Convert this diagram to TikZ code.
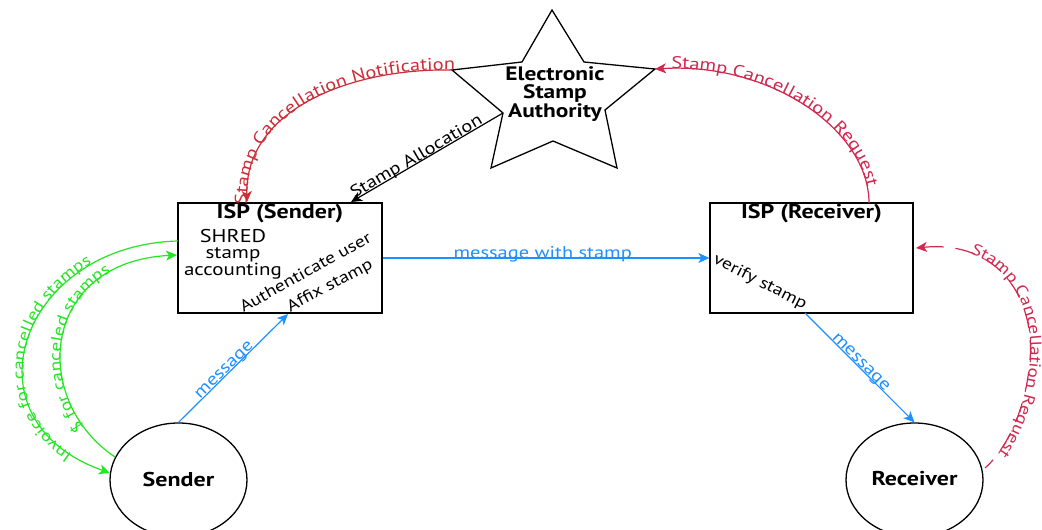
\documentclass[tikz,border=0pt]{standalone}
\usepackage{fontspec}
\setmainfont{PT Sans}[FakeStretch=1.2]
\usetikzlibrary{arrows.meta,decorations.text,shapes.geometric}
\definecolor{cblue}{RGB}{30,144,255}
\definecolor{cgreen}{RGB}{36,230,36}
\definecolor{cred}{RGB}{205,45,55}
\definecolor{cpink}{RGB}{210,40,80}
\newcommand\lblfont{\fontsize{17}{17}\selectfont}
\newcommand\grnfont{\fontsize{16}{16}\selectfont}
\newcommand\dshfont{\fontsize{16}{16}\selectfont}
\tikzset{
  lbl/.style={font=\lblfont, inner sep=0pt},
  tipend/.style={-{Stealth[length=11pt,width=10pt,inset=3pt]}},
  tipstart/.style={{Stealth[length=11pt,width=10pt,inset=3pt]}-},
  conn/.style={line width=1.2pt},
  boxnode/.style={draw, line width=1.3pt, minimum height=110pt, inner sep=0pt},
  ellnode/.style={draw, ellipse, line width=1.3pt, minimum width=137pt, minimum height=114pt, inner sep=0pt},
  bold/.style={font=\bfseries\fontsize{20}{20}\selectfont, inner sep=0pt},
  txt/.style={font=\fontsize{17.5}{16.5}\selectfont, inner sep=0pt},
  rtxt/.style={font=\fontsize{16.3}{16}\selectfont, inner sep=0pt},
}
\begin{document}
\begin{tikzpicture}[x=1pt,y=-1pt]
\useasboundingbox[fill=white] (0,0) rectangle (1042,530);

% star
\coordinate (sT) at (552,10);
\coordinate (sIUR) at (584,62);
\coordinate (starR) at (655,69);
\coordinate (sIR) at (605,110);
\coordinate (sBR) at (617,168);
\coordinate (sIB) at (553,141);
\coordinate (sBL) at (491,168);
\coordinate (starIL) at (503,113);
\coordinate (starL) at (452,70);
\coordinate (sIUL) at (522,62);
\draw[line width=1.3pt, line join=miter] (sT) -- (sIUR) -- (starR) -- (sIR) -- (sBR) -- (sIB) -- (sBL) -- (starIL) -- (starL) -- (sIUL) -- cycle;
\node[align=center, font=\bfseries\fontsize{19.5}{18.5}\selectfont, inner sep=0pt] (esa) at (555,94) {Electronic\\Stamp\\Authority};

% boxes
\node[boxnode, minimum width=204pt] (ispS) at (280,258) {};
\node[boxnode, minimum width=203pt] (ispR) at (811.5,258) {};
\node[bold] (ispSt) at (280,214) {ISP (Sender)};
\node[bold] (ispRt) at (811.5,214) {ISP (Receiver)};
\node[txt, align=center] (shred) at (233,254) {{\fontsize{18.5}{16.5}\selectfont SHRED}\\stamp\\accounting};
\node[rtxt, rotate=29, anchor=base] (auth) at (308,277) {Authenticate user};
\node[rtxt, rotate=28, anchor=base] (affix) at (332,290) {Affix stamp};
\node[rtxt, rotate=-27, anchor=base] (verify) at (758,286) {verify stamp};

% ellipses
\node[ellnode] (snd) at (178.5,480) {};
\node[ellnode] (rcv) at (914.5,480) {};
\node[bold] (sndt) at (178.5,479) {Sender};
\node[bold] (rcvt) at (914.5,479) {Receiver};

% connector end points
\coordinate (ispSN) at (247,202);
\coordinate (ispSA) at (351,202);
\coordinate (ispSB) at (288,314);
\coordinate (ispSW1) at (178,241);
\coordinate (ispSW2) at (177,255);
\coordinate (ispRN) at (869,203);
\coordinate (ispRB) at (805,313);
\coordinate (ispRE) at (916,248);
\coordinate (sndW) at (110,473);
\coordinate (sndNW) at (115,457);
\coordinate (rcvE) at (985,468);

% Stamp allocation
\draw[conn, tipend] (starIL) -- node[lbl, sloped, anchor=base, pos=0.55, yshift=1pt] (allocl) {Stamp Allocation} (ispSA);

% Stamp cancellation notification
\draw[conn, cred, tipstart,
  postaction={decorate, decoration={text along path, text color=cred,
    text={|\lblfont|Stamp Cancellation Notification}, text align=center}}]
  (ispSN) .. controls (245,110) and (350,68) .. (starL);

% Stamp cancellation request (top)
\draw[conn, cpink, tipstart,
  postaction={decorate, decoration={text along path, text color=cpink,
    text={|\lblfont|Stamp Cancellation Request}, text align=center}}]
  (starR) .. controls (770,62) and (869,130) .. (ispRN);

% message with stamp
\draw[conn, cblue, tipend] (ispS.east) -- node[lbl, anchor=base, pos=0.49] (mws) {message with stamp} (ispR.west);

% message sender -> ISP
\draw[conn, cblue, tipend] (snd.north) -- node[lbl, sloped, anchor=base, pos=0.45, yshift=1pt] (msg1) {message} (ispSB);

% message ISP -> receiver
\draw[conn, cblue, tipend] (ispRB) -- node[lbl, sloped, anchor=base, pos=0.48, yshift=1pt] (msg2) {message} (rcv.north);

% green: invoice
\draw[conn, cgreen, tipstart,
  postaction={decorate, decoration={text along path, text color=cgreen,
    text={|\grnfont|Invoice for cancelled stamps}, text align={left indent=42pt}}}]
  (sndW) .. controls (-40,420) and (20,245) .. (ispSW1);

% green: $ for canceled stamps
\draw[conn, cgreen, tipend,
  postaction={decorate, decoration={text along path, text color=cgreen,
    text={|\grnfont|{\$} for canceled stamps}, text align={left indent=42pt}}}]
  (sndNW) .. controls (30,400) and (40,262) .. (ispSW2);

% dashed request
\draw[conn, cpink, tipstart, dash pattern=on 20pt off 12pt,
  postaction={decorate, decoration={text along path, text color=cpink,
    text={|\dshfont|Stamp Cancellation Request}, text align={left indent=55pt}}}]
  (ispRE) .. controls (1000,240) and (1035,300) .. (1030,360) .. controls (1025,420) and (1000,455) .. (rcvE);
\end{tikzpicture}
\end{document}
